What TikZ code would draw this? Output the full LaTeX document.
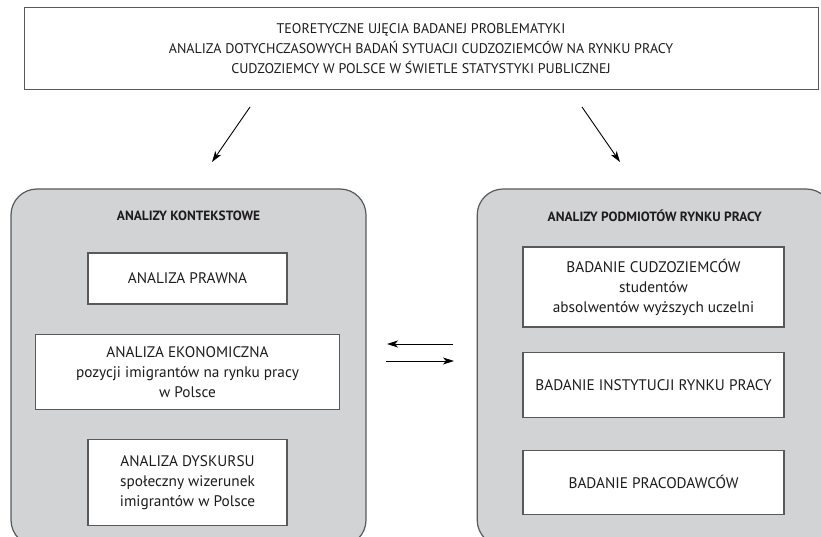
\documentclass[tikz,border=0pt]{standalone}
\usepackage{fontspec}
\setmainfont{PT Sans}
\usepackage{xcolor}
\usetikzlibrary{arrows.meta, positioning}
\definecolor{panelGray}{RGB}{209, 211, 212}
\definecolor{lineGray}{RGB}{88, 89, 91}
\definecolor{textBlack}{RGB}{30, 27, 28}

\begin{document}
\begin{tikzpicture}[x=1pt, y=-1pt]
    \tikzstyle{panel} = [rectangle, rounded corners=26pt, draw=lineGray, line width=1.2pt, fill=panelGray, minimum width=355pt, minimum height=357pt]
    \tikzstyle{box} = [rectangle, draw=lineGray, line width=1.2pt, fill=white, align=center, text=textBlack, font=\fontsize{15.3}{20}\selectfont]
    \tikzstyle{head} = [text=textBlack, font=\fontsize{13.4}{15}\selectfont\bfseries]
    \tikzstyle{link} = [line width=0.9pt, -{Stealth[length=11pt, width=7pt, inset=3pt]}]

    \clip (0,0) rectangle (821,537);

    % top box
    \node[rectangle, draw=lineGray, line width=1pt, minimum width=794pt, minimum height=82pt, align=center, text=textBlack, font=\fontsize{14}{20}\selectfont] (top) at (421,49)
        {TEORETYCZNE UJĘCIA BADANEJ PROBLEMATYKI\\ANALIZA DOTYCHCZASOWYCH BADAŃ SYTUACJI CUDZOZIEMCÓW NA RYNKU PRACY\\CUDZOZIEMCY W POLSCE W ŚWIETLE STATYSTYKI PUBLICZNEJ};

    % two panels
    \node[panel] (lp) at (188.5,367.5) {};
    \node[panel, right=110pt of lp] (rp) {};
    \node[head] (hl) at ([yshift=-27pt]lp.north) {ANALIZY KONTEKSTOWE};
    \node[head] (hr) at ([yshift=-27pt]rp.north) {ANALIZY PODMIOTÓW RYNKU PRACY};

    % left column
    \node[box, minimum width=199pt, minimum height=51pt] (prawo) at (187.5,278.5) {ANALIZA PRAWNA};
    \node[box, minimum width=304pt, minimum height=75pt, below=29pt of prawo] (ekon) {ANALIZA EKONOMICZNA\\pozycji imigrantów na rynku pracy\\w Polsce};
    \node[box, minimum width=199pt, minimum height=86pt, below=29pt of ekon] (dysk) {ANALIZA DYSKURSU\\społeczny wizerunek\\imigrantów w Polsce};

    % right column
    \node[box, minimum width=261pt, minimum height=80pt] (cudz) at (653.5,287) {BADANIE CUDZOZIEMCÓW\\studentów\\absolwentów wyższych uczelni};
    \node[box, minimum width=261pt, minimum height=65pt, below=24pt of cudz] (inst) {BADANIE INSTYTUCJI RYNKU PRACY};
    \node[box, minimum width=261pt, minimum height=64pt, below=32pt of inst] (prac) {BADANIE PRACODAWCÓW};

    % arrows
    \coordinate (t1) at (250,107);
    \coordinate (t2) at (212,162);
    \coordinate (t3) at (582,107);
    \coordinate (t4) at (620,162);
    \coordinate (m1) at (453,344);
    \coordinate (m2) at (387,344);
    \coordinate (m3) at (386,361);
    \coordinate (m4) at (454,361);
    \draw[link] (t1) -- (t2);
    \draw[link] (t3) -- (t4);
    \draw[link] (m1) -- (m2);
    \draw[link] (m3) -- (m4);
\end{tikzpicture}
\end{document}
